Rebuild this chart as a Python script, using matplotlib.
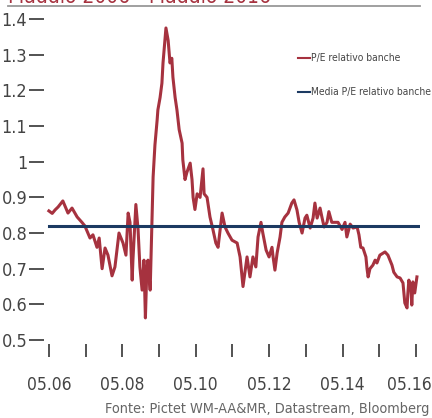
import matplotlib
matplotlib.use("Agg")
from matplotlib import pyplot as plt
from matplotlib.patches import Rectangle
from matplotlib.transforms import ScaledTranslation

# P/E relativo banche (settimanale, letto come anno decimale)
anni = [2006.33, 2006.42, 2006.50, 2006.58, 2006.71, 2006.85, 2006.96, 2007.10, 2007.23, 2007.31,
        2007.45, 2007.53, 2007.64, 2007.70, 2007.78, 2007.86, 2007.94, 2008.05, 2008.13, 2008.24,
        2008.35, 2008.43, 2008.49, 2008.54, 2008.60, 2008.62, 2008.70, 2008.76, 2008.81, 2008.87,
        2008.92, 2008.96, 2009.00, 2009.03, 2009.09, 2009.14, 2009.17, 2009.22, 2009.28, 2009.30,
        2009.36, 2009.41, 2009.44, 2009.52, 2009.58, 2009.63, 2009.68, 2009.71, 2009.77, 2009.82,
        2009.88, 2009.96, 2009.98, 2010.04, 2010.09, 2010.18, 2010.23, 2010.26, 2010.31, 2010.37,
        2010.45, 2010.53, 2010.56, 2010.64, 2010.72, 2010.80, 2010.88, 2010.94, 2011.05, 2011.13,
        2011.21, 2011.32, 2011.46, 2011.54, 2011.62, 2011.73, 2011.81, 2011.89, 2011.97, 2012.03,
        2012.11, 2012.16, 2012.25, 2012.33, 2012.41, 2012.44, 2012.49, 2012.55, 2012.63, 2012.68,
        2012.76, 2012.85, 2012.95, 2013.01, 2013.09, 2013.15, 2013.23, 2013.31, 2013.36, 2013.45,
        2013.53, 2013.58, 2013.64, 2013.72, 2013.77, 2013.83, 2013.91, 2013.96, 2014.04, 2014.13,
        2014.21, 2014.32, 2014.40, 2014.45, 2014.54, 2014.62, 2014.73, 2014.78, 2014.83, 2014.89,
        2014.97, 2015.00, 2015.03, 2015.08, 2015.16, 2015.22, 2015.27, 2015.35, 2015.49, 2015.57,
        2015.68, 2015.73, 2015.82, 2015.90, 2015.98, 2016.03, 2016.09, 2016.11, 2016.14, 2016.20,
        2016.22, 2016.25, 2016.30, 2016.36]
pe_banche = [0.862, 0.855, 0.865, 0.873, 0.890, 0.856, 0.870, 0.845, 0.830, 0.820,
             0.786, 0.795, 0.760, 0.786, 0.700, 0.758, 0.738, 0.680, 0.705, 0.800,
             0.772, 0.738, 0.856, 0.830, 0.668, 0.724, 0.880, 0.810, 0.705, 0.640,
             0.724, 0.562, 0.700, 0.724, 0.640, 0.837, 0.957, 1.047, 1.117, 1.145,
             1.180, 1.220, 1.277, 1.375, 1.340, 1.277, 1.290, 1.237, 1.180, 1.145,
             1.090, 1.052, 1.005, 0.950, 0.970, 0.996, 0.950, 0.900, 0.866, 0.910,
             0.900, 0.980, 0.910, 0.900, 0.845, 0.810, 0.772, 0.760, 0.856, 0.817,
             0.800, 0.780, 0.772, 0.733, 0.650, 0.733, 0.677, 0.733, 0.705, 0.789,
             0.830, 0.800, 0.752, 0.733, 0.760, 0.733, 0.696, 0.744, 0.789, 0.830,
             0.845, 0.856, 0.884, 0.893, 0.865, 0.830, 0.800, 0.842, 0.850, 0.814,
             0.842, 0.884, 0.842, 0.870, 0.845, 0.817, 0.830, 0.860, 0.830, 0.830,
             0.830, 0.810, 0.830, 0.789, 0.825, 0.814, 0.817, 0.795, 0.760, 0.758,
             0.733, 0.700, 0.677, 0.700, 0.710, 0.724, 0.716, 0.738, 0.747, 0.738,
             0.710, 0.690, 0.677, 0.674, 0.660, 0.604, 0.590, 0.626, 0.668, 0.640,
             0.598, 0.663, 0.632, 0.677]
media_pe = 0.82

y_ticks = [0.5, 0.6, 0.7, 0.8, 0.9, 1.0, 1.1, 1.2, 1.3, 1.4]
y_labels = ["0.5", "0.6", "0.7", "0.8", "0.9", "1", "1.1", "1.2", "1.3", "1.4"]
x_ticks = [2006.333 + i for i in range(11)]
x_labels = ["05.06", "", "05.08", "", "05.10", "", "05.12", "", "05.14", "", "05.16"]

ROSSO = "#a6323f"
BLU = "#1c3a62"
GRIGIO = "#444444"

plt.rcParams["font.family"] = ["DejaVu Sans"]
plt.rcParams["font.stretch"] = "condensed"

fig = plt.figure(figsize=(4.32, 4.18), dpi=100)
ax = fig.add_axes([0.1019, 0.178, 0.870, 0.7935])

ax.plot(anni, pe_banche, color=ROSSO, lw=2.2, solid_joinstyle="round")
ax.plot([anni[0], 2016.44], [media_pe, media_pe], color=BLU, lw=2.2)

ax.set_xlim(2006.197, 2016.44)
ax.set_ylim(0.49, 1.42)
for s in ax.spines.values():
    s.set_visible(False)

ax.set_yticks(y_ticks)
ax.set_yticklabels(y_labels)
ax.set_xticks(x_ticks)
ax.set_xticklabels(x_labels)
ax.tick_params(axis="y", length=11, width=1.3, color=GRIGIO, pad=1,
               labelsize=13, labelcolor=GRIGIO)
ax.tick_params(axis="x", length=9, width=1.3, color=GRIGIO, pad=14,
               labelsize=12.5, labelcolor=GRIGIO)
# l'ultima etichetta va spostata un po' a sinistra per stare nel riquadro
ultima = ax.get_xticklabels()[-1]
ultima.set_transform(ultima.get_transform()
                     + ScaledTranslation(-5 / 72, 0, fig.dpi_scale_trans))

# legenda manuale
fig.text(0.720, 0.861, "P/E relativo banche", fontsize=7.4, color=GRIGIO,
         va="center", ha="left")
fig.add_artist(plt.Line2D([0.690, 0.718], [0.861, 0.861], color=ROSSO, lw=1.5,
                          transform=fig.transFigure))
fig.text(0.720, 0.780, "Media P/E relativo banche", fontsize=7.4, color=GRIGIO,
         va="center", ha="left")
fig.add_artist(plt.Line2D([0.690, 0.718], [0.780, 0.780], color=BLU, lw=1.5,
                          transform=fig.transFigure))

# titolo tagliato in alto: una fascia bianca nasconde le discendenti
fig.text(0.018, 1 - 3.2 / 418, "Maggio 2006 - Maggio 2016", fontsize=15,
         color=ROSSO, va="baseline", ha="left", zorder=1)
fig.add_artist(Rectangle((0, 1 - 10 / 418), 1, 6.8 / 418, facecolor="white",
                         edgecolor="none", transform=fig.transFigure, zorder=2))
fig.add_artist(plt.Line2D([0.018, 0.972], [1 - 5.5 / 418, 1 - 5.5 / 418],
                          color="#999999", lw=1.3, transform=fig.transFigure,
                          zorder=3))

fig.text(0.995, 0.005, "Fonte: Pictet WM-AA&MR, Datastream, Bloomberg",
         fontsize=10.4, color="#666666", ha="right", va="bottom")

fig.savefig("out.png", dpi=100)
